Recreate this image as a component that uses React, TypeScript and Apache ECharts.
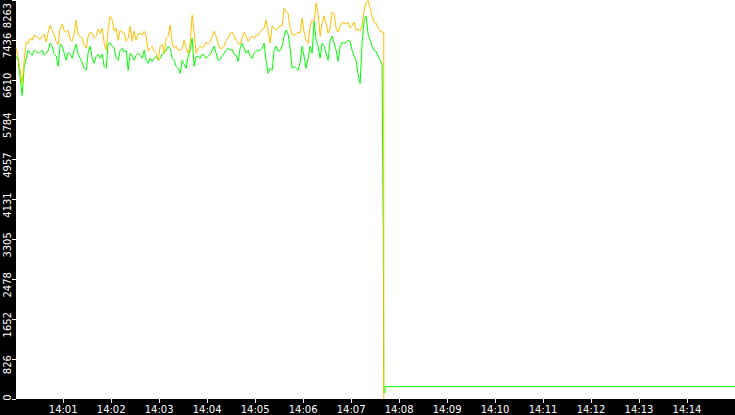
import { useEffect, useRef } from 'react';
import * as echarts from 'echarts';

// seconds after 14:00:00
const sampleStart = 1.25;
const sampleStep = 2.5;

const orangeValues = [
  7264, 7056, 6806, 6535, 7014, 7389, 7368, 7472, 7430, 7534, 7514, 7472, 7451, 7514, 7555, 7389,
  7597, 7742, 7618, 7555, 7389, 7347, 7680, 7763, 7618, 7597, 7638, 7451, 7409, 7555, 7847, 7555,
  7493, 7472, 7326, 7264, 7514, 7597, 7576, 7472, 7514, 7659, 7576, 7680, 7368, 7222, 7680,
  7930, 7847, 7618, 7680, 7430, 7638, 7597, 7576, 7409, 7472, 7722, 7409, 7618, 7430, 7555, 7576,
  7534, 7618, 7514, 7201, 7264, 7305, 7201, 7160, 7014, 7305, 7347, 7160, 7472, 7514, 7742, 7368,
  7264, 7305, 7222, 7222, 7264, 7430, 7264, 7160, 7368, 7951, 7576, 7160, 7264, 7305, 7264,
  7305, 7389, 7347, 7389, 7514, 7618, 7514, 7347, 7264, 7264, 7305, 7430, 7472, 7576, 7597, 7514,
  7430, 7368, 7347, 7472, 7597, 7514, 7409, 7472, 7514, 7472, 7534, 7534, 7597, 7659, 7680, 7847,
  7618, 7368, 7722, 7680, 7638, 7680, 7742, 7722, 8096, 8013, 7992, 7680, 7555, 7534,
  7555, 7597, 7576, 7888, 7597, 7430, 7368, 7722, 7847, 7805, 8200, 7992, 7514, 7784, 7930, 7784,
  7576, 7680, 8013, 7971, 7680, 7597, 7722, 7805, 7784, 7763, 7805, 7680, 7722, 7805, 7638, 7659,
  7618, 7722, 8055, 8200, 8250, 8096, 7930, 7805, 7784, 7680, 7618, 7597,
];

const greenValues = [
  7097, 7014, 6639, 6285, 6889, 7056, 7222, 7160, 7118, 7222, 7201, 7160, 7180, 7222, 7118, 7160,
  7222, 7368, 7305, 7139, 7097, 6889, 7347, 7305, 7160, 7014, 7180, 7139, 7056, 7222, 7347, 7139,
  7056, 6972, 6847, 6806, 7180, 7305, 7056, 6952, 7097, 7139, 7056, 7139, 6889, 6847, 7368,
  7368, 7305, 7264, 7056, 7014, 7222, 7264, 7180, 7222, 6806, 7160, 7097, 7014, 7118, 7160, 7118,
  7056, 7222, 7014, 6952, 7056, 6993, 7056, 7097, 7014, 7056, 7139, 7160, 7222, 7305, 7264, 7056,
  7014, 6889, 6847, 6743, 7014, 6931, 6847, 7097, 7222, 7472, 6889, 7097, 7097, 7056, 7139,
  7118, 7056, 7097, 7139, 7222, 7305, 7160, 7014, 7035, 7097, 7160, 7222, 7264, 7222, 7243, 7139,
  7118, 6993, 7264, 7368, 7264, 7160, 7222, 7097, 7056, 7160, 7201, 7222, 7222, 7264, 7368, 6993,
  6743, 6847, 6806, 7222, 7305, 7201, 7222, 7305, 7514, 7638, 7555, 7264, 6847, 6889,
  6847, 6806, 6972, 7305, 7097, 6847, 7056, 7305, 7160, 7826, 7430, 7305, 7056, 7368, 7305, 7160,
  7014, 7430, 7514, 7368, 7222, 6993, 7305, 7389, 7368, 7389, 7430, 7409, 7222, 7097, 7014, 6723,
  6535, 7368, 7847, 7930, 7555, 7430, 7305, 7222, 7201, 7097, 7014, 6931,
];

// around and after the drop
const orangeTailTimes = [460.8, 460.85];
const orangeTailValues = [7597, 0];
const greenTailTimes = [460.0, 460.3, 460.85, 462.3, 462.4, 900];
const greenTailValues = [3800, 3600, 130, 130, 256, 256];

const yTickLabels = ['0', '826', '1652', '2478', '3305', '4131', '4957', '5784', '6610', '7436', '8263'];
const xTickSeconds = [60, 120, 180, 240, 300, 360, 420, 480, 540, 600, 660, 720, 780, 840];
const xTickLabels = [
  '14:01', '14:02', '14:03', '14:04', '14:05', '14:06', '14:07',
  '14:08', '14:09', '14:10', '14:11', '14:12', '14:13', '14:14',
];

const yMax = 8263;
const yInterval = 826.3;

function toPairs(values: number[], tailTimes: number[], tailValues: number[]) {
  const pts: number[][] = values.map((v, i) => [sampleStart + i * sampleStep, v]);
  tailTimes.forEach((t, i) => pts.push([t, tailValues[i]]));
  return pts;
}

export default function App() {
  const chartRef = useRef<HTMLDivElement>(null);

  useEffect(() => {
    document.body.style.margin = '0';
    if (!chartRef.current) return;
    const chart = echarts.init(chartRef.current, null, { renderer: 'svg' });

    const labelFont = {
      color: '#ffffff',
      fontSize: 10,
      fontFamily: 'DejaVu Sans',
    };

    chart.setOption({
      animation: false,
      backgroundColor: '#000000',
      grid: {
        left: 16,
        right: 0,
        top: 0,
        bottom: 16,
        show: true,
        backgroundColor: '#ffffff',
        borderWidth: 0,
        outerBoundsMode: 'none',
        containLabel: false,
      },
      xAxis: {
        type: 'value',
        min: 1,
        max: 900,
        axisLine: { show: false },
        splitLine: { show: false },
        axisTick: {
          show: true,
          length: 4,
          customValues: xTickSeconds,
          lineStyle: { color: '#ffffff', width: 1 },
        },
        axisLabel: {
          ...labelFont,
          margin: 5,
          customValues: xTickSeconds,
          formatter: (v: number) => xTickLabels[xTickSeconds.indexOf(v)] ?? '',
        },
      },
      yAxis: {
        type: 'value',
        min: 0,
        max: yMax,
        interval: yInterval,
        axisLine: { show: false },
        splitLine: { show: false },
        axisTick: {
          show: true,
          length: 4,
          lineStyle: { color: '#ffffff', width: 1 },
        },
        axisLabel: {
          ...labelFont,
          rotate: 90,
          margin: 4,
          // labels sit a little below their ticks; the end ones are kept inside the plot height
          formatter: (v: number) => {
            const idx = Math.round(v / yInterval);
            const label = yTickLabels[idx] ?? '';
            if (idx === 0) return `{bot|${label}}`;
            if (idx === yTickLabels.length - 1) return `{top|${label}}`;
            return `{mid|${label}}`;
          },
          rich: {
            top: { ...labelFont, padding: [0, 31, 0, 0] },
            mid: { ...labelFont, padding: [0, 11, 0, 0] },
            bot: { ...labelFont, padding: [0, 0, 0, 3] },
          },
        },
      },
      series: [
        {
          name: 'green',
          type: 'line',
          data: toPairs(greenValues, greenTailTimes, greenTailValues),
          showSymbol: false,
          silent: true,
          lineStyle: { color: '#00ff00', width: 1 },
          z: 2,
        },
        {
          name: 'orange',
          type: 'line',
          data: toPairs(orangeValues, orangeTailTimes, orangeTailValues),
          showSymbol: false,
          silent: true,
          lineStyle: { color: '#ffbf00', width: 1 },
          z: 3,
        },
      ],
    });

    return () => {
      chart.dispose();
    };
  }, []);

  return (
    <div
      ref={chartRef}
      style={{ width: '735px', height: '415px', background: '#000000' }}
    />
  );
}
